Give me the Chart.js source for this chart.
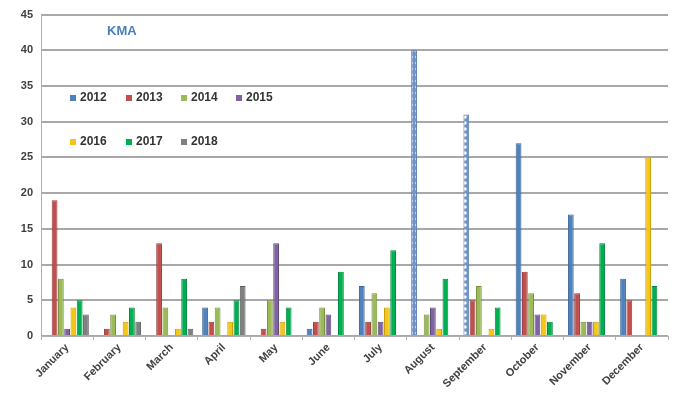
<!DOCTYPE html>
<html>
<head>
<meta charset="utf-8">
<script src="https://cdn.jsdelivr.net/npm/chart.js@4"></script>
<style>
    html, body { margin: 0; padding: 0; background: #ffffff; }
    #wrap { width: 674px; height: 412px; }
</style>
</head>
<body>
<div id="wrap"><canvas id="grafico" width="674" height="412"></canvas></div>
<script>
const meses = ["January", "February", "March", "April", "May", "June", "July", "August", "September", "October", "November", "December"];
const anos = ["2012", "2013", "2014", "2015", "2016", "2017", "2018"];
const cores = ["#4f81bd", "#c0504d", "#9bbb59", "#8064a2", "#f5c518", "#00b050", "#7f7f7f"];
const bordas = ["#3a6496", "#953b39", "#77903f", "#5f4b7a", "#c9a00a", "#00853c", "#5f5f5f"];

const v2012 = [0, 0, 0, 4, 0, 1, 7, 40, 31, 27, 17, 8];
const v2013 = [19, 1, 13, 2, 1, 2, 2, 0, 5, 9, 6, 5];
const v2014 = [8, 3, 4, 4, 5, 4, 6, 3, 7, 6, 2, 0];
const v2015 = [1, 0, 0, 0, 13, 3, 2, 4, 0, 3, 2, 0];
const v2016 = [4, 2, 1, 2, 2, 0, 4, 1, 1, 3, 2, 25];
const v2017 = [5, 4, 8, 5, 4, 9, 12, 8, 4, 2, 13, 7];
const v2018 = [3, 2, 1, 7, 0, 0, 0, 0, 0, 0, 0, 0];
const serie = [v2012, v2013, v2014, v2015, v2016, v2017, v2018];

const ticksY = [0, 5, 10, 15, 20, 25, 30, 35, 40, 45];
// barras de 2012 em agosto e setembro aparecem pontilhadas
const pontilhados = [7, 8];

function criarPadrao() {
    const tile = document.createElement("canvas");
    tile.width = 6;
    tile.height = 6;
    const c = tile.getContext("2d");
    c.fillStyle = "#7094c8";
    c.fillRect(0, 0, 6, 6);
    c.fillStyle = "#ffffff";
    c.beginPath();
    c.arc(3, 3, 1.7, 0, Math.PI * 2);
    c.fill();
    return document.getElementById("grafico").getContext("2d").createPattern(tile, "repeat");
}

const padrao = criarPadrao();

const datasets = anos.map((ano, i) => ({
    label: ano,
    data: serie[i],
    backgroundColor: i === 0 ? meses.map((_, m) => pontilhados.includes(m) ? padrao : cores[0]) : cores[i],
    borderColor: i === 0 ? meses.map((_, m) => pontilhados.includes(m) ? "#5479ad" : bordas[0]) : bordas[i],
    borderWidth: 1,
    categoryPercentage: 0.84,
    barPercentage: 0.92
}));

const legendaPlugin = {
    id: "legendaKma",
    afterDraw(chart) {
        const { ctx } = chart;
        ctx.save();
        ctx.font = "bold 13px 'Liberation Sans', Arial, sans-serif";
        ctx.fillStyle = "#4a7ebb";
        ctx.textBaseline = "middle";
        ctx.fillText("KMA", 107, 31);

        const posicoes = [
            [73, 98], [129, 98], [184, 98], [239, 98],
            [73, 142], [129, 142], [184, 142]
        ];
        ctx.font = "bold 12px 'Liberation Sans', Arial, sans-serif";
        anos.forEach((ano, i) => {
            const [x, y] = posicoes[i];
            ctx.fillStyle = cores[i];
            ctx.fillRect(x - 3, y - 3, 6, 6);
            ctx.fillStyle = "#333333";
            ctx.fillText(ano, x + 7, y);
        });
        ctx.restore();
    }
};

new Chart(document.getElementById("grafico"), {
    type: "bar",
    data: { labels: meses, datasets },
    plugins: [legendaPlugin],
    options: {
        responsive: false,
        animation: false,
        layout: { padding: { top: 14, right: 6, bottom: 0, left: 0 } },
        plugins: {
            legend: { display: false },
            tooltip: { enabled: false }
        },
        scales: {
            x: {
                afterFit: scale => { scale.height = 76; },
                grid: {
                    offset: true,
                    drawOnChartArea: false,
                    tickLength: 4,
                    color: "#b0b0b0"
                },
                border: { color: "#b0b0b0", width: 1 },
                ticks: {
                    minRotation: 45,
                    maxRotation: 45,
                    padding: 1,
                    color: "#404040",
                    font: { family: "'Liberation Sans', Arial, sans-serif", size: 11, weight: "bold" }
                }
            },
            y: {
                min: 0,
                max: 45,
                afterFit: scale => { scale.width = 41; },
                afterBuildTicks: scale => { scale.ticks = ticksY.map(v => ({ value: v })); },
                grid: {
                    color: "#a8a8a8",
                    lineWidth: 2,
                    drawTicks: false
                },
                border: { color: "#b0b0b0", width: 1 },
                ticks: {
                    padding: 8,
                    color: "#404040",
                    font: { family: "'Liberation Sans', Arial, sans-serif", size: 11, weight: "bold" }
                }
            }
        }
    }
});
</script>
</body>
</html>
